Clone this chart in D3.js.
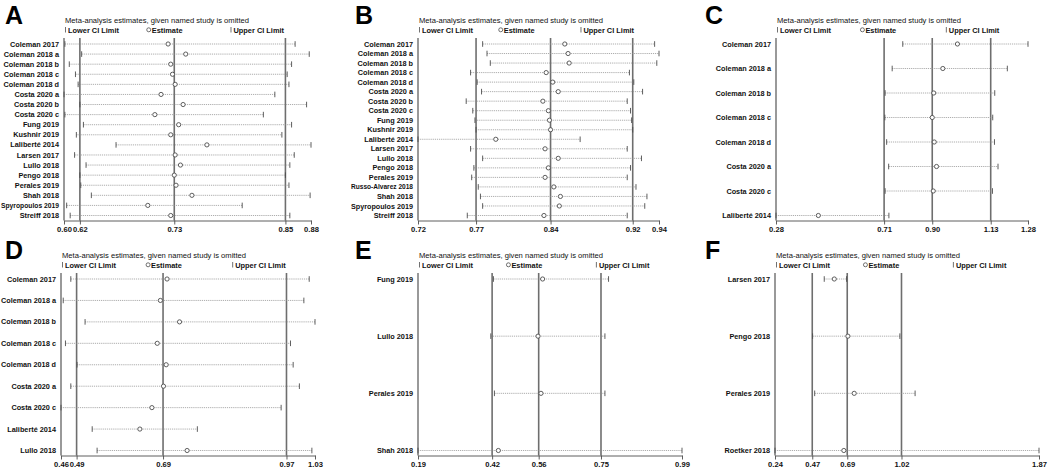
<!DOCTYPE html>
<html>
<head>
<meta charset="utf-8">
<script src="https://cdn.jsdelivr.net/npm/d3@7"></script>
<style>
  html, body { margin: 0; padding: 0; background: #fff; }
  svg { display: block; font-family: "Liberation Sans", Arial, sans-serif; }
</style>
</head>
<body>
<svg id="chart" width="1049" height="470"></svg>
<script>
// ---------------- DATA ----------------
const studiesA = ["Coleman 2017","Coleman 2018 a","Coleman 2018 b","Coleman 2018 c","Coleman 2018 d","Costa 2020 a","Costa 2020 b","Costa 2020 c","Fung 2019","Kushnir 2019","Laliberté 2014","Larsen 2017","Lullo 2018","Pengo 2018","Perales 2019","Shah 2018","Spyropoulos 2019","Streiff 2018"];
const lowerA = [0.601,0.620,0.606,0.613,0.616,0.600,0.618,0.601,0.622,0.614,0.659,0.612,0.625,0.618,0.619,0.631,0.603,0.607];
const estA   = [0.718,0.738,0.721,0.723,0.726,0.710,0.735,0.703,0.730,0.721,0.762,0.726,0.732,0.725,0.727,0.745,0.695,0.721];
const upperA = [0.862,0.878,0.858,0.853,0.855,0.839,0.875,0.826,0.858,0.847,0.880,0.861,0.856,0.851,0.855,0.879,0.802,0.856];
const overallA = [0.618,0.725,0.851];
const domainA = [0.60,0.88];
const tickLabelsA = ["0.60","0.62","0.73","0.85","0.88"];

const studiesB = ["Coleman 2017","Coleman 2018 a","Coleman 2018 b","Coleman 2018 c","Coleman 2018 d","Costa 2020 a","Costa 2020 b","Costa 2020 c","Fung 2019","Kushnir 2019","Laliberté 2014","Larsen 2017","Lullo 2018","Pengo 2018","Perales 2019","Russo-Alvarez 2018","Shah 2018","Spyropoulos 2019","Streiff 2018"];
const lowerB = [0.779,0.783,0.786,0.768,0.774,0.778,0.764,0.770,0.772,0.773,0.720,0.768,0.779,0.771,0.769,0.775,0.777,0.779,0.765];
const estB   = [0.854,0.857,0.858,0.837,0.843,0.848,0.834,0.839,0.840,0.841,0.791,0.836,0.848,0.839,0.836,0.844,0.850,0.849,0.835];
const upperB = [0.936,0.940,0.938,0.913,0.917,0.925,0.911,0.914,0.915,0.916,0.868,0.911,0.924,0.914,0.911,0.919,0.929,0.927,0.911];
const overallB = [0.773,0.841,0.916];
const domainB = [0.72,0.94];
const tickLabelsB = ["0.72","0.77","0.84","0.92","0.94"];

const studiesC = ["Coleman 2017","Coleman 2018 a","Coleman 2018 b","Coleman 2018 c","Coleman 2018 d","Costa 2020 a","Costa 2020 c","Laliberté 2014"];
const lowerC = [0.783,0.741,0.713,0.712,0.719,0.727,0.713,0.280];
const estC   = [1.000,0.942,0.906,0.900,0.908,0.917,0.904,0.448];
const upperC = [1.280,1.198,1.148,1.140,1.147,1.161,1.139,0.728];
const overallC = [0.709,0.900,1.132];
const domainC = [0.28,1.28];
const tickLabelsC = ["0.28","0.71","0.90","1.13","1.28"];

const studiesD = ["Coleman 2017","Coleman 2018 a","Coleman 2018 b","Coleman 2018 c","Coleman 2018 d","Costa 2020 a","Costa 2020 c","Laliberté 2014","Lullo 2018"];
const lowerD = [0.482,0.465,0.514,0.470,0.496,0.482,0.460,0.530,0.541];
const estD   = [0.698,0.683,0.726,0.676,0.696,0.690,0.664,0.637,0.743];
const upperD = [1.017,1.005,1.030,0.975,0.981,0.995,0.954,0.766,1.023];
const overallD = [0.495,0.689,0.966];
const domainD = [0.46,1.03];
const tickLabelsD = ["0.46","0.49","0.69","0.97","1.03"];

const studiesE = ["Fung 2019","Lullo 2018","Perales 2019","Shah 2018"];
const lowerE = [0.420,0.412,0.423,0.190];
const estE   = [0.570,0.556,0.565,0.435];
const upperE = [0.771,0.760,0.760,0.995];
const overallE = [0.416,0.558,0.748];
const domainE = [0.19,0.995];
const tickLabelsE = ["0.19","0.42","0.56","0.75","0.99"];

const studiesF = ["Larsen 2017","Pengo 2018","Perales 2019","Roetker 2018"];
const lowerF = [0.544,0.472,0.485,0.240];
const estF   = [0.606,0.690,0.729,0.665];
const upperF = [0.682,1.011,1.105,1.870];
const overallF = [0.470,0.686,1.021];
const domainF = [0.24,1.87];
const tickLabelsF = ["0.24","0.47","0.69","1.02","1.87"];

// ---------------- LAYOUT ----------------
const panels = [
  {letter:"A", ox:0,   oy:0,   x0:64,  x1:311,  studies:studiesA, lower:lowerA, est:estA, upper:upperA, overall:overallA, domain:domainA, ticks:tickLabelsA},
  {letter:"B", ox:350, oy:0,   x0:68,  x1:309,  studies:studiesB, lower:lowerB, est:estB, upper:upperB, overall:overallB, domain:domainB, ticks:tickLabelsB},
  {letter:"C", ox:700, oy:0,   x0:76,  x1:328,  studies:studiesC, lower:lowerC, est:estC, upper:upperC, overall:overallC, domain:domainC, ticks:tickLabelsC},
  {letter:"D", ox:0,   oy:235, x0:61,  x1:315,  studies:studiesD, lower:lowerD, est:estD, upper:upperD, overall:overallD, domain:domainD, ticks:tickLabelsD},
  {letter:"E", ox:350, oy:235, x0:68,  x1:332,  studies:studiesE, lower:lowerE, est:estE, upper:upperE, overall:overallE, domain:domainE, ticks:tickLabelsE},
  {letter:"F", ox:700, oy:235, x0:75,  x1:339,  studies:studiesF, lower:lowerF, est:estF, upper:upperF, overall:overallF, domain:domainF, ticks:tickLabelsF}
];

const svg = d3.select("#chart");
const topY = 38, firstY = 44, lastY = 215.5, axisY = 220.5;
const dark = "#4d4d4d", refCol = "#6e6e6e";

panels.forEach(p => {
  const g = svg.append("g").attr("transform", `translate(${p.ox},${p.oy})`);
  const x = d3.scaleLinear().domain(p.domain).range([p.x0, p.x1]);
  const y = d3.scalePoint().domain(p.studies).range([firstY, lastY]);
  const w = p.x1 - p.x0;

  // panel letter
  g.append("text").attr("x", 5).attr("y", 23.5)
    .attr("font-size", 25).attr("font-weight", "bold").attr("fill", "#000")
    .text(p.letter);

  // title
  g.append("text").attr("x", p.x0 + 1).attr("y", 22.5)
    .attr("font-size", 7.6).attr("fill", "#111")
    .text("Meta-analysis estimates, given named study is omitted");

  // legend
  const ly = 32.5;
  const leg = g.append("g").attr("font-size", 7.4).attr("font-weight", "bold").attr("fill", "#111");
  leg.append("line").attr("x1", p.x0 + 1.5).attr("x2", p.x0 + 1.5).attr("y1", ly - 5.5).attr("y2", ly)
    .attr("stroke", dark).attr("stroke-width", 0.8);
  leg.append("text").attr("x", p.x0 + 4).attr("y", ly).text("Lower CI Limit");
  leg.append("circle").attr("cx", p.x0 + w * 0.335 + 2).attr("cy", ly - 2.7).attr("r", 2)
    .attr("fill", "none").attr("stroke", dark).attr("stroke-width", 0.8);
  leg.append("text").attr("x", p.x0 + w * 0.335 + 5).attr("y", ly).text("Estimate");
  leg.append("line").attr("x1", p.x0 + w * 0.67 + 1.5).attr("x2", p.x0 + w * 0.67 + 1.5).attr("y1", ly - 5.5).attr("y2", ly)
    .attr("stroke", dark).attr("stroke-width", 0.8);
  leg.append("text").attr("x", p.x0 + w * 0.67 + 4).attr("y", ly).text("Upper CI Limit");

  // overall reference lines
  g.selectAll("line.ref").data(p.overall).enter().append("line")
    .attr("class", "ref")
    .attr("x1", d => x(d)).attr("x2", d => x(d))
    .attr("y1", topY).attr("y2", axisY)
    .attr("stroke", refCol).attr("stroke-width", 1.6);

  // left axis line
  g.append("line").attr("x1", p.x0).attr("x2", p.x0).attr("y1", topY).attr("y2", axisY)
    .attr("stroke", refCol).attr("stroke-width", 1.4);

  const idx = d3.range(p.studies.length);
  // CI dotted lines
  g.selectAll("line.ci").data(idx).enter().append("line")
    .attr("class", "ci")
    .attr("x1", i => x(p.lower[i])).attr("x2", i => x(p.upper[i]))
    .attr("y1", i => y(p.studies[i])).attr("y2", i => y(p.studies[i]))
    .attr("stroke", "#8a8a8a").attr("stroke-width", 0.7).attr("stroke-dasharray", "1.2,0.9");
  // end caps
  ["lower", "upper"].forEach(k => {
    g.selectAll("line.cap" + k).data(idx).enter().append("line")
      .attr("class", "cap" + k)
      .attr("x1", i => x(p[k][i])).attr("x2", i => x(p[k][i]))
      .attr("y1", i => y(p.studies[i]) - 2.8).attr("y2", i => y(p.studies[i]) + 2.8)
      .attr("stroke", dark).attr("stroke-width", 0.9);
  });
  // estimates
  g.selectAll("circle.est").data(idx).enter().append("circle")
    .attr("class", "est")
    .attr("cx", i => x(p.est[i])).attr("cy", i => y(p.studies[i])).attr("r", 2.1)
    .attr("fill", "#fff").attr("stroke", dark).attr("stroke-width", 0.9);

  // study labels (condense slightly any label that would run past the panel's left edge)
  const labX = p.x0 - 5;
  g.selectAll("text.lab").data(p.studies).enter().append("text")
    .attr("class", "lab")
    .attr("x", labX).attr("y", d => y(d)).attr("dy", "0.35em")
    .attr("text-anchor", "end").attr("font-size", 7.3).attr("font-weight", "bold").attr("fill", "#111")
    .text(d => d)
    .each(function() {
      const len = this.getComputedTextLength();
      if (len > labX - 1) {
        d3.select(this).attr("textLength", labX - 1).attr("lengthAdjust", "spacingAndGlyphs");
      }
    });

  // bottom axis
  const tickVals = [p.domain[0], p.overall[0], p.overall[1], p.overall[2], p.domain[1]];
  const axis = d3.axisBottom(x).tickValues(tickVals).tickSize(4).tickSizeOuter(0)
    .tickFormat((d, i) => p.ticks[i]);
  const ag = g.append("g").attr("transform", `translate(0,${axisY})`).call(axis);
  ag.select(".domain").attr("stroke", dark).attr("stroke-width", 0.9);
  ag.selectAll(".tick line").attr("stroke", dark).attr("stroke-width", 0.9);
  ag.selectAll(".tick text").attr("font-size", 7.6).attr("font-weight", "bold")
    .attr("font-family", "Liberation Sans, Arial, sans-serif").attr("fill", "#111").attr("dy", "0.55em");
});
</script>
</body>
</html>
